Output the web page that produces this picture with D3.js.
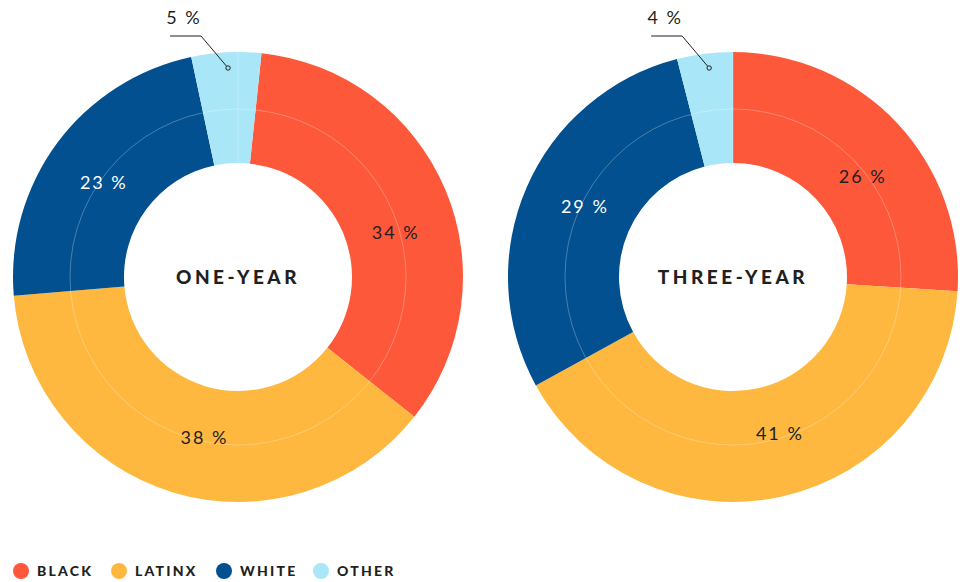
<!DOCTYPE html>
<html>
<head>
<meta charset="utf-8">
<script src="https://cdn.jsdelivr.net/npm/d3@7"></script>
<style>
  body { margin: 0; background: #fff; }
  svg { display: block; }
  text { font-family: Lato, "Open Sans", sans-serif; fill: #231f20; }
</style>
</head>
<body>
<svg width="963" height="582"></svg>
<script>
try {

// data
var groups = ["BLACK", "LATINX", "WHITE", "OTHER"];
var colors = ["#fd583a", "#ffb83f", "#02508f", "#a8e6f8"];
var oneYear = [34, 38, 23, 5];
var threeYear = [26, 41, 29, 4];
var titles = ["ONE-YEAR", "THREE-YEAR"];
var startDeg = [6, 0];
// small angle nudges for the slice labels (degrees)
var nudges = [[7, -5, -1.5], [5.5, -4, 2]];

var svg = d3.select("svg");

/*========================================
	Donuts
========================================*/
var outerR = 225, innerR = 114, gridR = 168, labelR = 164;
var centers = [[238, 277], [733, 277]];
var color = d3.scaleOrdinal().domain(groups).range(colors);

var drawDonut = function(values, cx, cy, title, offset, nudge){
	var g = svg.append("g").attr("transform", "translate(" + cx + "," + cy + ")");
	var a0 = offset * Math.PI / 180;
	var pie = d3.pie().sort(null).value(function(d){ return d.v; })
		.startAngle(a0).endAngle(a0 + 2 * Math.PI);
	var arcs = pie(values.map(function(v, i){ return {k: groups[i], v: v}; }));
	var arc = d3.arc().innerRadius(innerR).outerRadius(outerR);

	g.selectAll("path.slice").data(arcs).enter().append("path")
		.attr("class", "slice")
		.attr("d", arc)
		.attr("fill", function(d){ return color(d.data.k); });

	// faint grid ring + spoke
	g.append("circle").attr("r", gridR).attr("fill", "none")
		.attr("stroke", "#fff").attr("stroke-opacity", 0.35).attr("stroke-width", 0.8);
	g.append("line").attr("x1", 0).attr("y1", -innerR).attr("x2", 0).attr("y2", -outerR)
		.attr("stroke", "#fff").attr("stroke-opacity", 0.35).attr("stroke-width", 0.8);

	// labels
	arcs.forEach(function(d, i){
		var mid = (d.startAngle + d.endAngle) / 2;
		if (i < 3) {
			mid += nudge[i] * Math.PI / 180;
			g.append("text")
				.attr("x", labelR * Math.sin(mid))
				.attr("y", -labelR * Math.cos(mid))
				.attr("dy", "0.35em")
				.attr("text-anchor", "middle")
				.style("font-size", "18px")
				.style("letter-spacing", "2px")
				.style("fill", i == 2 ? "#fff" : "#231f20")
				.text(d.data.v + " %");
		} else {
			// callout for the small slice
			var px = labelR * 1.16 * Math.sin(mid), py = -209;
			var ex = px - 27, ey = -241;
			g.append("path")
				.attr("d", "M" + (ex - 31) + "," + ey + "H" + ex + "L" + px + "," + py)
				.attr("fill", "none").attr("stroke", "#231f20").attr("stroke-width", 1);
			g.append("circle").attr("cx", px).attr("cy", py).attr("r", 2.2)
				.attr("fill", color(d.data.k)).attr("stroke", "#231f20").attr("stroke-width", 1);
			g.append("text")
				.attr("x", ex - 17).attr("y", ey - 12)
				.attr("text-anchor", "middle")
				.style("font-size", "18px")
				.style("letter-spacing", "2px")
				.text(d.data.v + " %");
		}
	});

	g.append("text")
		.attr("y", 0).attr("dy", "0.35em")
		.attr("text-anchor", "middle")
		.style("font-size", "19px").style("font-weight", 900)
		.style("letter-spacing", "3.5px")
		.text(title);
};

drawDonut(oneYear, centers[0][0], centers[0][1], titles[0], startDeg[0], nudges[0]);
drawDonut(threeYear, centers[1][0], centers[1][1], titles[1], startDeg[1], nudges[1]);

/*========================================
	Legend
========================================*/
var legendX = [21, 119, 224, 321];
var legend = svg.append("g").attr("transform", "translate(0,571)");
groups.forEach(function(k, i){
	legend.append("circle").attr("cx", legendX[i]).attr("cy", 0).attr("r", 8).attr("fill", color(k));
	legend.append("text").attr("x", legendX[i] + 16).attr("y", 0).attr("dy", "0.36em")
		.style("font-size", "14px").style("font-weight", 900).style("letter-spacing", "2.2px")
		.text(k);
});

} catch (e) {
	console.log(e);
}
</script>
</body>
</html>
